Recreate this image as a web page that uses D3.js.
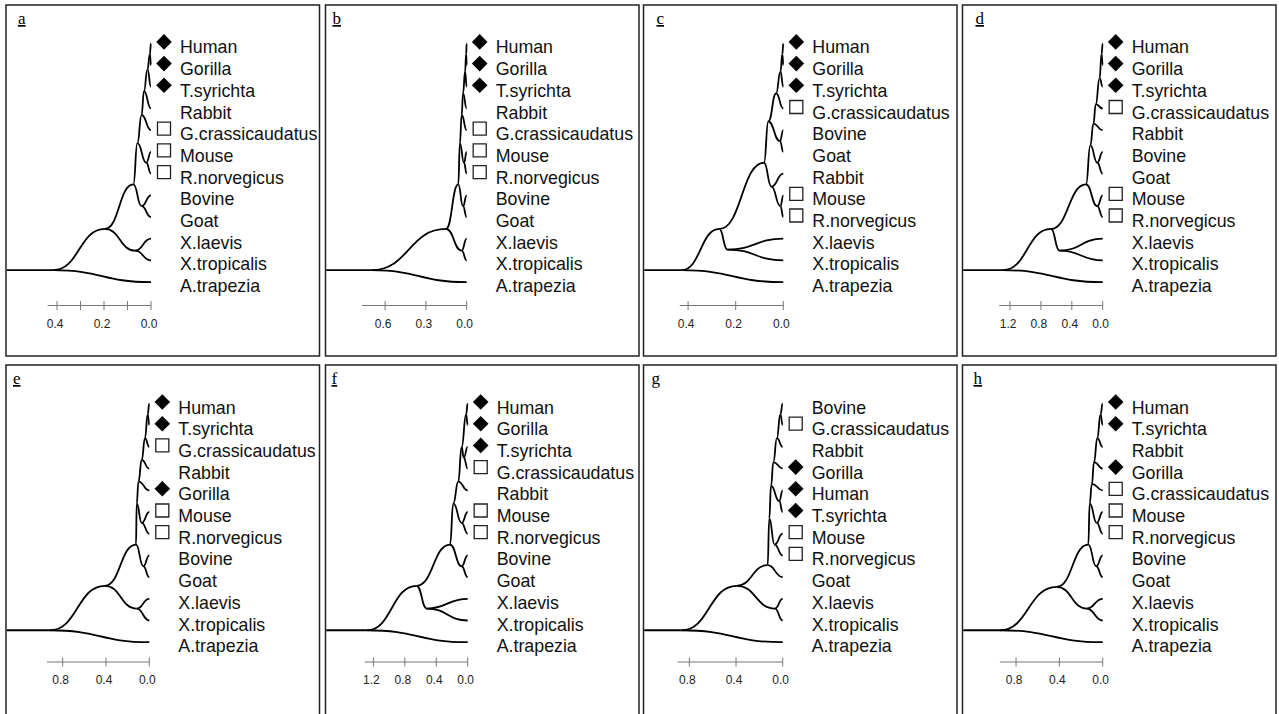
<!DOCTYPE html>
<html>
<head>
<meta charset="utf-8">
<script src="https://cdn.jsdelivr.net/npm/d3@7"></script>
<style>
body { margin: 0; background: #fff; }
svg { display: block; }
</style>
</head>
<body>
<svg id="fig" width="1279" height="714"></svg>
<script>
var panelNames = ["a", "b", "c", "d", "e", "f", "g", "h"];

// tip labels, top to bottom.  marks: d = filled diamond, s = open square
// nodes: [id, parent, height from tips, row]
var labelsA = ["Human","Gorilla","T.syrichta","Rabbit","G.crassicaudatus","Mouse","R.norvegicus","Bovine","Goat","X.laevis","X.tropicalis","A.trapezia"];
var marksA = ["d","d","d","","s","s","s","","","","",""];
var tipParentA = ["hg","hg","s4","s3","s2","mr","mr","bg","bg","xen","xen","root"];
var nodesA = [
    ["root", "", 0.416, 10.45],
    ["n1", "root", 0.196, 8.55],
    ["xen", "n1", 0.068, 9.55],
    ["n2", "n1", 0.075, 6.5],
    ["bg", "n2", 0.04, 7.5],
    ["s1", "n2", 0.058, 4.6],
    ["mr", "s1", 0.02, 5.5],
    ["s2", "s1", 0.04, 3.3],
    ["s3", "s2", 0.03, 2.2],
    ["s4", "s3", 0.015, 1.2],
    ["hg", "s4", 0.005, 0.5]
];
var ticksA = [0.4, 0.3, 0.2, 0.1, 0];
var tickLabelsA = ["0.4", "", "0.2", "", "0.0"];
var axisMaxA = 0.44;

var labelsB = ["Human","Gorilla","T.syrichta","Rabbit","G.crassicaudatus","Mouse","R.norvegicus","Bovine","Goat","X.laevis","X.tropicalis","A.trapezia"];
var marksB = ["d","d","d","","s","s","s","","","","",""];
var tipParentB = ["hg","hg","s4","s3","s2","mr","mr","bg","bg","xen","xen","root"];
var nodesB = [
    ["root", "", 0.70, 10.45],
    ["n1", "root", 0.152, 8.55],
    ["xen", "n1", 0.037, 9.55],
    ["n2", "n1", 0.062, 6.5],
    ["bg", "n2", 0.027, 7.5],
    ["s1", "n2", 0.05, 4.6],
    ["mr", "s1", 0.02, 5.5],
    ["s2", "s1", 0.037, 3.3],
    ["s3", "s2", 0.027, 2.3],
    ["s4", "s3", 0.012, 1.3],
    ["hg", "s4", 0.004, 0.5]
];
var ticksB = [0.6, 0.3, 0];
var tickLabelsB = ["0.6", "0.3", "0.0"];
var axisMaxB = 0.77;

var labelsC = ["Human","Gorilla","T.syrichta","G.crassicaudatus","Bovine","Goat","Rabbit","Mouse","R.norvegicus","X.laevis","X.tropicalis","A.trapezia"];
var marksC = ["d","d","d","s","","","","s","s","","",""];
var tipParentC = ["hg","hg","s3","s2","bg","bg","rmr","mr","mr","xen","xen","root"];
var nodesC = [
    ["root", "", 0.427, 10.45],
    ["n1", "root", 0.269, 8.55],
    ["xen", "n1", 0.235, 9.5],
    ["n2", "n1", 0.081, 5.5],
    ["rmr", "n2", 0.05, 6.6],
    ["mr", "rmr", 0.012, 7.5],
    ["s1", "n2", 0.063, 3.6],
    ["bg", "s1", 0.014, 4.5],
    ["s2", "s1", 0.03, 2.3],
    ["s3", "s2", 0.012, 1.3],
    ["hg", "s3", 0.004, 0.5]
];
var ticksC = [0.4, 0.2, 0];
var tickLabelsC = ["0.4", "0.2", "0.0"];
var axisMaxC = 0.435;

var labelsD = ["Human","Gorilla","T.syrichta","G.crassicaudatus","Rabbit","Bovine","Goat","Mouse","R.norvegicus","X.laevis","X.tropicalis","A.trapezia"];
var marksD = ["d","d","d","s","","","","s","s","","",""];
var tipParentD = ["hg","hg","s4","s3","s2","bg","bg","mr","mr","xen","xen","root"];
var nodesD = [
    ["root", "", 1.29, 10.45],
    ["n1", "root", 0.67, 8.55],
    ["xen", "n1", 0.56, 9.55],
    ["n2", "n1", 0.216, 6.5],
    ["mr", "n2", 0.07, 7.5],
    ["s1", "n2", 0.16, 4.7],
    ["bg", "s1", 0.07, 5.5],
    ["s2", "s1", 0.12, 3.7],
    ["s3", "s2", 0.09, 2.8],
    ["s4", "s3", 0.04, 1.6],
    ["hg", "s4", 0.015, 0.5]
];
var ticksD = [1.2, 0.8, 0.4, 0];
var tickLabelsD = ["1.2", "0.8", "0.4", "0.0"];
var axisMaxD = 1.34;

var labelsE = ["Human","T.syrichta","G.crassicaudatus","Rabbit","Gorilla","Mouse","R.norvegicus","Bovine","Goat","X.laevis","X.tropicalis","A.trapezia"];
var marksE = ["d","d","s","","d","s","s","","","","",""];
var tipParentE = ["ht","ht","s4","s3","s2","mr","mr","bg","bg","xen","xen","root"];
var nodesE = [
    ["root", "", 0.917, 10.45],
    ["n1", "root", 0.41, 8.4],
    ["xen", "n1", 0.116, 9.45],
    ["n2", "n1", 0.123, 6.5],
    ["bg", "n2", 0.055, 7.5],
    ["s1", "n2", 0.116, 4.6],
    ["mr", "s1", 0.07, 5.5],
    ["s2", "s1", 0.1, 3.6],
    ["s3", "s2", 0.07, 2.6],
    ["s4", "s3", 0.04, 1.6],
    ["ht", "s4", 0.015, 0.5]
];
var ticksE = [0.8, 0.4, 0];
var tickLabelsE = ["0.8", "0.4", "0.0"];
var axisMaxE = 0.945;

var labelsF = ["Human","Gorilla","T.syrichta","G.crassicaudatus","Rabbit","Mouse","R.norvegicus","Bovine","Goat","X.laevis","X.tropicalis","A.trapezia"];
var marksF = ["d","d","d","s","","s","s","","","","",""];
var tipParentF = ["hg","hg","tg","tg","s2","mr","mr","bg","bg","xen","xen","root"];
var nodesF = [
    ["root", "", 1.28, 10.45],
    ["n1", "root", 0.65, 8.4],
    ["xen", "n1", 0.52, 9.45],
    ["n2", "n1", 0.225, 6.5],
    ["bg", "n2", 0.077, 7.5],
    ["s1", "n2", 0.183, 4.6],
    ["mr", "s1", 0.077, 5.5],
    ["s2", "s1", 0.12, 3.6],
    ["s3", "s2", 0.077, 2.0],
    ["tg", "s3", 0.05, 2.5],
    ["hg", "s3", 0.02, 0.5]
];
var ticksF = [1.2, 0.8, 0.4, 0];
var tickLabelsF = ["1.2", "0.8", "0.4", "0.0"];
var axisMaxF = 1.31;

var labelsG = ["Bovine","G.crassicaudatus","Rabbit","Gorilla","Human","T.syrichta","Mouse","R.norvegicus","Goat","X.laevis","X.tropicalis","A.trapezia"];
var marksG = ["","s","","d","d","d","s","s","","","",""];
var tipParentG = ["bgc","bgc","s4","s3","ht","ht","mr","mr","n2","xen","xen","root"];
var nodesG = [
    ["root", "", 0.866, 10.45],
    ["n1", "root", 0.394, 8.4],
    ["xen", "n1", 0.066, 9.45],
    ["n2", "n1", 0.129, 7.45],
    ["s1", "n2", 0.115, 5.3],
    ["mr", "s1", 0.07, 6.5],
    ["s2", "s1", 0.1, 3.8],
    ["ht", "s2", 0.03, 4.5],
    ["s3", "s2", 0.08, 2.7],
    ["s4", "s3", 0.05, 1.6],
    ["bgc", "s4", 0.02, 0.5]
];
var ticksG = [0.8, 0.4, 0];
var tickLabelsG = ["0.8", "0.4", "0.0"];
var axisMaxG = 0.9;

var labelsH = ["Human","T.syrichta","Rabbit","Gorilla","G.crassicaudatus","Mouse","R.norvegicus","Bovine","Goat","X.laevis","X.tropicalis","A.trapezia"];
var marksH = ["d","d","","d","s","s","s","","","","",""];
var tipParentH = ["ht","ht","s4","s3","s2","mr","mr","bg","bg","xen","xen","root"];
var nodesH = [
    ["root", "", 0.948, 10.45],
    ["n1", "root", 0.425, 8.45],
    ["xen", "n1", 0.148, 9.45],
    ["n2", "n1", 0.133, 6.5],
    ["bg", "n2", 0.06, 7.5],
    ["s1", "n2", 0.12, 4.6],
    ["mr", "s1", 0.055, 5.5],
    ["s2", "s1", 0.1, 3.7],
    ["s3", "s2", 0.08, 2.7],
    ["s4", "s3", 0.05, 1.6],
    ["ht", "s4", 0.02, 0.5]
];
var ticksH = [0.8, 0.4, 0];
var tickLabelsH = ["0.8", "0.4", "0.0"];
var axisMaxH = 0.95;

var panels = [
    {labels: labelsA, marks: marksA, tipParent: tipParentA, nodes: nodesA, ticks: ticksA, tickLabels: tickLabelsA, axisMax: axisMaxA},
    {labels: labelsB, marks: marksB, tipParent: tipParentB, nodes: nodesB, ticks: ticksB, tickLabels: tickLabelsB, axisMax: axisMaxB},
    {labels: labelsC, marks: marksC, tipParent: tipParentC, nodes: nodesC, ticks: ticksC, tickLabels: tickLabelsC, axisMax: axisMaxC},
    {labels: labelsD, marks: marksD, tipParent: tipParentD, nodes: nodesD, ticks: ticksD, tickLabels: tickLabelsD, axisMax: axisMaxD},
    {labels: labelsE, marks: marksE, tipParent: tipParentE, nodes: nodesE, ticks: ticksE, tickLabels: tickLabelsE, axisMax: axisMaxE},
    {labels: labelsF, marks: marksF, tipParent: tipParentF, nodes: nodesF, ticks: ticksF, tickLabels: tickLabelsF, axisMax: axisMaxF},
    {labels: labelsG, marks: marksG, tipParent: tipParentG, nodes: nodesG, ticks: ticksG, tickLabels: tickLabelsG, axisMax: axisMaxG},
    {labels: labelsH, marks: marksH, tipParent: tipParentH, nodes: nodesH, ticks: ticksH, tickLabels: tickLabelsH, axisMax: axisMaxH}
];

// layout
var colX = [6, 325.5, 643.5, 962.5];
var rowY = [5, 365];
var panelW = 313.5, panelH = 351;
var firstRow = [38.4, 38.5];
var rowStep = 21.7;
var axisOff = [300.5, 297];
var tipOffset = [145, 141.2, 139.8, 140.2, 143.3, 142.2, 139.2, 140.2];
var pxPerUnit = [235, 136, 238, 77.2, 108.3, 78.6, 116.7, 108.3];
var letterX = [12, 7, 13, 13, 7, 6, 8, 11];

var svg = d3.select("#fig");

panels.forEach(function(p, i)
{
    var col = i % 4, row = Math.floor(i / 4);
    var g = svg.append("g")
        .attr("transform", "translate(" + colX[col] + "," + rowY[row] + ")");

    g.append("rect")
        .attr("width", panelW)
        .attr("height", panelH)
        .attr("fill", "none")
        .attr("stroke", "#222")
        .attr("stroke-width", 1.5);

    g.append("text")
        .attr("x", letterX[i])
        .attr("y", 19)
        .style("font-family", "'Liberation Serif', 'Times New Roman', serif")
        .style("font-size", "17px")
        .style("text-decoration", "underline")
        .text(panelNames[i]);

    var x = d3.scaleLinear()
        .domain([0, 1])
        .range([tipOffset[i], tipOffset[i] - pxPerUnit[i]]);
    var y = d3.scaleLinear()
        .domain([0, 1])
        .range([firstRow[row], firstRow[row] + rowStep]);

    var table = p.nodes.map(function(n)
    {
        return {id: n[0], parent: n[1], h: n[2], r: n[3]};
    });
    p.labels.forEach(function(lab, k)
    {
        table.push({id: lab, parent: p.tipParent[k], h: 0, r: k, mark: p.marks[k]});
    });

    var root = d3.stratify()
        .id(function(d) { return d.id; })
        .parentId(function(d) { return d.parent || null; })(table);

    var link = d3.linkHorizontal()
        .x(function(d) { return x(d.data.h); })
        .y(function(d) { return y(d.data.r); });

    // root stub from panel edge
    g.append("line")
        .attr("x1", 0.75)
        .attr("x2", x(root.data.h))
        .attr("y1", y(root.data.r))
        .attr("y2", y(root.data.r))
        .attr("stroke", "#000")
        .attr("stroke-width", 1.8);

    g.append("g")
        .selectAll("path")
        .data(root.links())
        .enter().append("path")
        .attr("d", link)
        .attr("fill", "none")
        .attr("stroke", "#000")
        .attr("stroke-width", 1.8);

    var leaves = root.leaves();

    g.append("g")
        .selectAll("path")
        .data(leaves.filter(function(d) { return d.data.mark; }))
        .enter().append("path")
        .attr("transform", function(d)
        {
            var t = "translate(" + (x(0) + 13) + "," + (y(d.data.r) - 1.5) + ")";
            return d.data.mark == "d" ? t + " rotate(45)" : t;
        })
        .attr("d", function(d)
        {
            return d3.symbol().type(d3.symbolSquare).size(d.data.mark == "d" ? 122 : 170)();
        })
        .attr("fill", function(d) { return d.data.mark == "d" ? "#000" : "#fff"; })
        .attr("stroke", function(d) { return d.data.mark == "d" ? "none" : "#222"; })
        .attr("stroke-width", 1.3);

    g.append("g")
        .selectAll("text")
        .data(leaves)
        .enter().append("text")
        .attr("x", x(0) + 29)
        .attr("y", function(d) { return y(d.data.r) + 10; })
        .style("font-family", "'Liberation Sans', Arial, sans-serif")
        .style("font-size", "17.8px")
        .attr("fill", "#111")
        .text(function(d) { return d.data.id; });

    // scale bar
    var ay = axisOff[row];
    var axis = g.append("g").attr("class", "scale");
    axis.append("line")
        .attr("x1", x(p.axisMax))
        .attr("x2", x(0))
        .attr("y1", ay)
        .attr("y2", ay)
        .attr("stroke", "#777")
        .attr("stroke-width", 1);
    axis.selectAll(".tick")
        .data(p.ticks)
        .enter().append("line")
        .attr("class", "tick")
        .attr("x1", function(d) { return x(d); })
        .attr("x2", function(d) { return x(d); })
        .attr("y1", ay - 4.5)
        .attr("y2", ay + 4.5)
        .attr("stroke", "#777")
        .attr("stroke-width", 1);
    axis.selectAll("text")
        .data(p.ticks)
        .enter().append("text")
        .attr("x", function(d) { return x(d) - 2; })
        .attr("y", ay + 22)
        .attr("text-anchor", "middle")
        .style("font-family", "'Liberation Sans', Arial, sans-serif")
        .style("font-size", "12px")
        .attr("fill", "#222")
        .text(function(d, k) { return p.tickLabels[k]; });
});
</script>
</body>
</html>
